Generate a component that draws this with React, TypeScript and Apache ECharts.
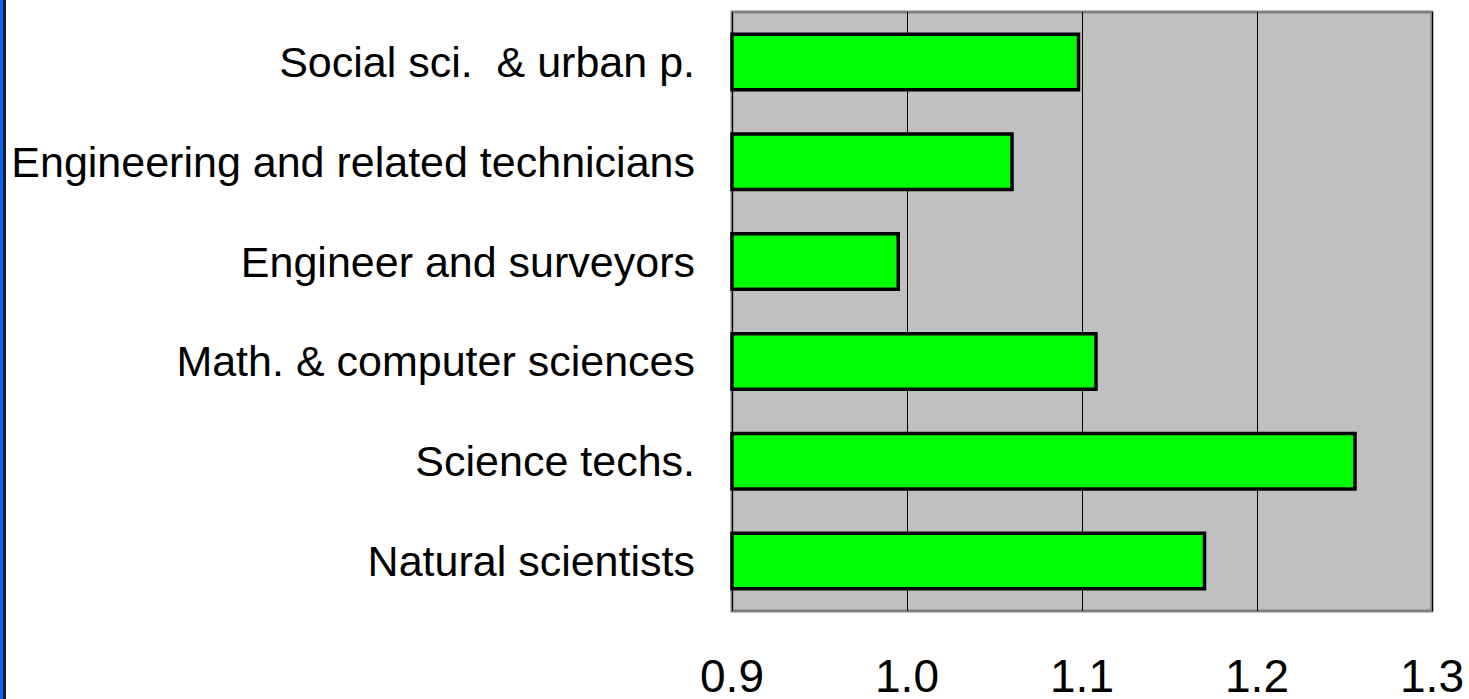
import React, { useEffect, useRef } from "react";
import * as echarts from "echarts";

const categories = [
  "Natural scientists",
  "Science techs.",
  "Math. & computer sciences",
  "Engineer and surveyors",
  "Engineering and related technicians",
  "Social sci.\u00a0 & urban p.",
];
const values = [1.171, 1.257, 1.109, 0.996, 1.061, 1.099];
const xMin = 0.9;
const xMax = 1.3;
const xStep = 0.1;

export default function App() {
  const ref = useRef<HTMLDivElement>(null);
  useEffect(() => {
    document.body.style.margin = "0";
    const chart = echarts.init(ref.current!, null, { renderer: "svg" });
    chart.setOption({
      animation: false,
      backgroundColor: "#ffffff",
      textStyle: { fontFamily: "Liberation Sans, Arial, sans-serif" },
      graphic: [
        { type: "rect", left: 0, top: 0, shape: { width: 3, height: 699 }, style: { fill: "#0066ff" } },
        { type: "rect", left: 3, top: 0, shape: { width: 3, height: 699 }, style: { fill: "#1a1a1a" } },
      ],
      grid: {
        left: 732,
        right: 37,
        top: 12,
        bottom: 87,
        show: true,
        backgroundColor: "#c0c0c0",
        borderColor: "#808080",
        borderWidth: 3,
        containLabel: false,
      },
      xAxis: {
        type: "value",
        min: xMin,
        max: xMax,
        interval: xStep,
        axisLine: { show: false },
        axisTick: { show: false },
        splitLine: { show: true, lineStyle: { color: "#000000", width: 1 } },
        axisLabel: {
          color: "#000000",
          fontSize: 46,
          margin: 42,
          fontFamily: "Liberation Sans, Arial, sans-serif",
          formatter: (v: number) => v.toFixed(1),
        },
      },
      yAxis: {
        type: "category",
        data: categories,
        axisLine: { show: false },
        axisTick: { show: false },
        splitLine: { show: false },
        axisLabel: {
          color: "#000000",
          fontSize: 43,
          margin: 37,
          fontFamily: "Liberation Sans, Arial, sans-serif",
        },
      },
      series: [
        {
          type: "bar",
          data: values,
          barWidth: 59,
          itemStyle: { color: "#00ff00", borderColor: "#000000", borderWidth: 3.5 },
        },
      ],
    });
    return () => chart.dispose();
  }, []);
  return <div ref={ref} style={{ width: 1469, height: 699, position: "absolute", left: 0, top: 0 }} />;
}
